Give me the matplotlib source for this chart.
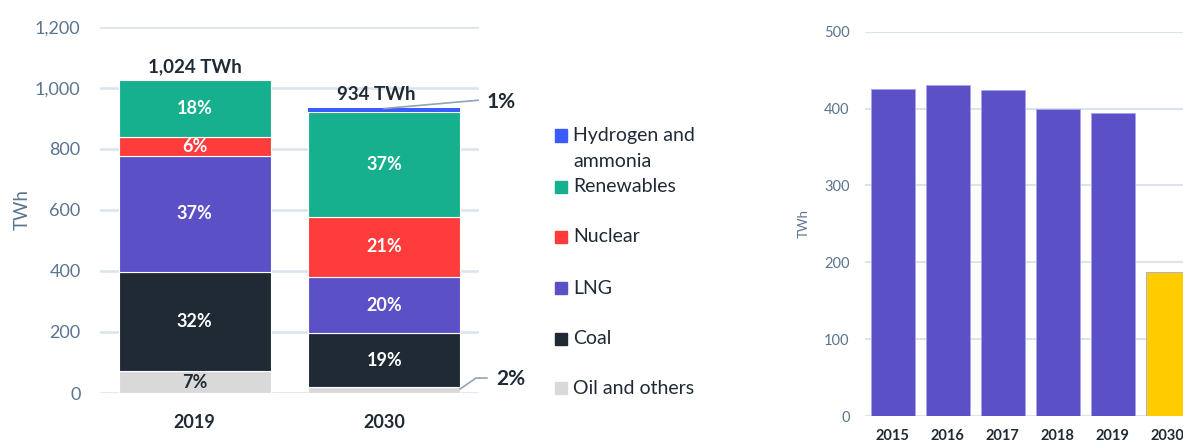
import matplotlib.pyplot as plt
from matplotlib.patches import Rectangle

plt.rcParams['font.family'] = ['Lato', 'DejaVu Sans']

# power generation mix (TWh), stacked bottom -> top
years = ['2019', '2030']
total_labels = ['1,024 TWh', '934 TWh']
sources = ['Oil and others', 'Coal', 'LNG', 'Nuclear', 'Renewables', 'Hydrogen and\nammonia']
mix_2019 = [72, 325, 380, 63, 184, 0]
mix_2030 = [19, 176, 186, 196, 344, 13]
colors = ['#d9d9d9', '#1f2a35', '#5b50c6', '#fe3c3c', '#17b08e', '#3a5cfb']

# LNG-fired generation (TWh)
lng_years = ['2015', '2016', '2017', '2018', '2019', '2030']
lng_twh = [426, 431, 424, 400, 394, 187]
lng_colors = ['#5b50c6'] * 5 + ['#ffcc00']

TICK = '#5b7490'
GRID = '#dbe3ec'
DARK = '#1f2a35'
LEAD = '#8ea3b8'

W, H = 1183, 443
fig = plt.figure(figsize=(W / 100, H / 100), dpi=100)

# ---- left: stacked mix ----
ax = fig.add_axes([100 / W, 50 / H, 379 / W, 366.3 / H])
x = [0, 1]
totals = [sum(mix_2019), sum(mix_2030)]
bottom = [0, 0]
for i, src in enumerate(sources):
    vals = [mix_2019[i], mix_2030[i]]
    ax.bar(x, vals, bottom=bottom, width=0.8, color=colors[i],
           edgecolor='white', linewidth=0.8 if i < 5 else 0)
    for j in range(2):
        pct = round(vals[j] / totals[j] * 100)
        if vals[j] > 0 and pct >= 5:
            ax.text(x[j], bottom[j] + vals[j] / 2, f'{pct}%', ha='center', va='center',
                    fontsize=13, fontweight='bold',
                    color=DARK if i == 0 else 'white')
    bottom = [bottom[k] + vals[k] for k in range(2)]

total_dx = [0, -0.04]
for j in range(2):
    ax.text(x[j] + total_dx[j], bottom[j] + 45, total_labels[j], ha='center', va='center',
            fontsize=13.5, fontweight='bold', color=DARK)

# leader lines for the small shares in 2030
pct_h = round(mix_2030[5] / totals[1] * 100)
pct_o = round(mix_2030[0] / totals[1] * 100)
ax.plot([1.0, 1.495], [932, 959], color=LEAD, lw=1.2, clip_on=False)
ax.text(1.542, 953, f'{pct_h}%', ha='left', va='center', fontsize=15,
        fontweight='bold', color=DARK, clip_on=False)
ax.plot([1.4, 1.484, 1.542], [13, 49, 49], color=LEAD, lw=1.2, clip_on=False)
ax.text(1.589, 46, f'{pct_o}%', ha='left', va='center', fontsize=15,
        fontweight='bold', color=DARK, clip_on=False)

ax.set_xlim(-0.5, 1.5)
ax.set_ylim(0, 1200)
ax.set_xticks(x)
ax.set_xticklabels(years, fontsize=13, fontweight='bold', color=DARK)
ax.set_yticks(range(0, 1201, 200))
ax.set_yticklabels([f'{v:,}' for v in range(0, 1201, 200)], fontsize=13, color=TICK)
ax.tick_params(axis='both', length=0)
ax.tick_params(axis='x', pad=15)
ax.tick_params(axis='y', pad=14)
ax.set_ylabel('TWh', fontsize=13.5, color=TICK, labelpad=3)
ax.set_axisbelow(True)
ax.yaxis.grid(True, color=GRID, linewidth=1.8)
for s in ax.spines.values():
    s.set_visible(False)

# legend drawn by hand so the two-line entry keeps the even spacing
leg_y = [388, 338.7, 288, 236.7, 187, 135.5]
for i, src in enumerate(sources):
    yf = 1 - leg_y[i] / H
    fig.patches.append(Rectangle((555 / W, yf - 6 / H), 12 / W, 12 / H,
                                 transform=fig.transFigure, color=colors[i]))
    lines = src.split('\n')
    for k, line in enumerate(lines):
        fig.text(573 / W, yf - k * 26 / H, line, ha='left', va='center',
                 fontsize=14, color=DARK)

# ---- right: LNG generation (cut at figure edge) ----
ax2 = fig.add_axes([865 / W, 27 / H, 330 / W, 384.3 / H])
ax2.bar(range(len(lng_years)), lng_twh, width=0.8, color=lng_colors,
        edgecolor='#a9a4e8', linewidth=0.6)
ax2.set_xlim(-0.5, 5.5)
ax2.set_ylim(0, 500)
ax2.set_xticks(range(len(lng_years)))
ax2.set_xticklabels(lng_years, fontsize=10.5, fontweight='bold', color=DARK)
ax2.set_yticks(range(0, 501, 100))
ax2.set_yticklabels([str(v) for v in range(0, 501, 100)], fontsize=10.5, color=TICK)
ax2.tick_params(axis='both', length=0)
ax2.tick_params(axis='x', pad=9)
ax2.tick_params(axis='y', pad=11)
ax2.set_ylabel('TWh', fontsize=9.5, color=TICK, labelpad=10)
ax2.set_axisbelow(True)
ax2.yaxis.grid(True, color=GRID, linewidth=1.5)
for s in ax2.spines.values():
    s.set_visible(False)

fig.savefig('out.png', dpi=100)
plt.close()
